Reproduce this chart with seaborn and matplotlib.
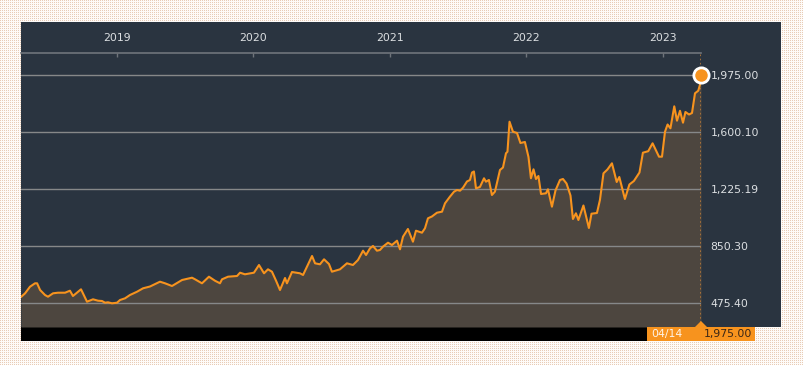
import matplotlib
matplotlib.use("Agg")
import matplotlib.pyplot as plt
from matplotlib.patches import Rectangle, Polygon
from matplotlib.ticker import FuncFormatter
import numpy as np
import pandas as pd
import seaborn as sns

# data (fractional year, index level)
years = [
    2018.296, 2018.326, 2018.362, 2018.399, 2018.414, 2018.436, 2018.472, 2018.494,
    2018.531, 2018.567, 2018.619, 2018.655, 2018.677, 2018.736, 2018.780, 2018.824,
    2018.861, 2018.890, 2018.912, 2018.934, 2018.963, 2019.000, 2019.022, 2019.059,
    2019.095, 2019.147, 2019.191, 2019.242, 2019.315, 2019.352, 2019.403, 2019.477,
    2019.550, 2019.572, 2019.623, 2019.674, 2019.718, 2019.755, 2019.770, 2019.814,
    2019.880, 2019.902, 2019.938, 2020.004, 2020.041, 2020.078, 2020.107, 2020.136,
    2020.166, 2020.195, 2020.232, 2020.246, 2020.283, 2020.342, 2020.364, 2020.430,
    2020.452, 2020.488, 2020.518, 2020.554, 2020.576, 2020.635, 2020.686, 2020.730,
    2020.767, 2020.804, 2020.826, 2020.855, 2020.877, 2020.906, 2020.928, 2020.950,
    2020.987, 2021.016, 2021.053, 2021.075, 2021.097, 2021.133, 2021.170, 2021.192,
    2021.236, 2021.258, 2021.280, 2021.309, 2021.346, 2021.383, 2021.405, 2021.441,
    2021.471, 2021.493, 2021.515, 2021.537, 2021.566, 2021.588, 2021.603, 2021.617,
    2021.632, 2021.661, 2021.691, 2021.705, 2021.727, 2021.749, 2021.771, 2021.808,
    2021.830, 2021.852, 2021.863, 2021.878, 2021.903, 2021.933, 2021.958, 2021.991,
    2022.017, 2022.035, 2022.054, 2022.072, 2022.090, 2022.109, 2022.145, 2022.160,
    2022.189, 2022.215, 2022.248, 2022.270, 2022.296, 2022.325, 2022.343, 2022.365,
    2022.383, 2022.420, 2022.460, 2022.479, 2022.519, 2022.541, 2022.567, 2022.596,
    2022.629, 2022.664, 2022.683, 2022.724, 2022.757, 2022.790, 2022.831, 2022.856,
    2022.895, 2022.927, 2022.974, 2022.996, 2023.018, 2023.037, 2023.058, 2023.086,
    2023.106, 2023.128, 2023.150, 2023.168, 2023.194, 2023.216, 2023.238, 2023.262,
    2023.274, 2023.282,
]
values = [
    514.9, 539.2, 582.6, 605.0, 605.0, 560.9, 528.0, 516.8,
    539.2, 543.1, 543.1, 556.3, 521.4, 565.5, 484.0, 499.7,
    490.5, 488.6, 477.4, 480.0, 473.4, 477.4, 495.1, 506.3,
    528.0, 549.7, 572.1, 583.9, 615.5, 605.0, 587.2, 626.7,
    641.8, 631.3, 605.0, 648.4, 622.1, 605.0, 631.3, 648.4,
    653.0, 674.7, 664.2, 674.7, 725.3, 670.7, 697.0, 681.3,
    622.1, 560.9, 639.8, 605.0, 679.3, 670.7, 659.6, 784.5,
    736.5, 729.9, 762.8, 731.9, 681.3, 697.0, 736.5, 725.3,
    758.2, 819.4, 791.1, 835.2, 850.3, 819.4, 824.0, 845.7,
    872.0, 856.9, 885.1, 828.6, 911.5, 962.1, 878.6, 950.9,
    937.8, 966.7, 1032.5, 1044.3, 1069.3, 1075.9, 1131.1, 1174.5,
    1207.4, 1218.6, 1214.0, 1233.7, 1274.5, 1284.4, 1333.7, 1340.3,
    1229.8, 1238.3, 1295.6, 1273.2, 1284.4, 1185.7, 1207.4, 1350.1,
    1366.6, 1460.0, 1470.5, 1667.8, 1602.0, 1593.5, 1527.7, 1534.3,
    1435.6, 1295.6, 1354.7, 1290.9, 1310.7, 1192.3, 1196.9, 1223.2,
    1108.8, 1215.3, 1284.4, 1290.9, 1261.4, 1182.4, 1027.9, 1065.4,
    1021.3, 1116.7, 968.7, 1062.7, 1067.3, 1152.8, 1328.4, 1353.4,
    1394.2, 1271.2, 1304.1, 1159.4, 1254.8, 1277.8, 1333.7, 1463.9,
    1473.8, 1525.7, 1437.6, 1437.6, 1602.0, 1649.4, 1624.4, 1769.1,
    1674.4, 1739.5, 1661.2, 1731.6, 1715.2, 1725.0, 1854.6, 1871.7,
    1909.2, 1975.0,
]
y_ticks = [475.40, 850.30, 1225.19, 1600.10, 1975.00]
x_ticks = [2019, 2020, 2021, 2022, 2023]
last_date_label = "04/14"
last_value = 1975.00

W, H = 804, 365
ORANGE = "#f7931e"
PANEL = "#2a3440"
FILL = "#4d463f"
GRID = "#868889"
TEXT = "#dcdfe2"


def fx(px):
    return px / W


def fy(py):
    return 1 - py / H


sns.set_theme(style="white")
plt.rcParams["font.family"] = ["DejaVu Sans"]

df = pd.DataFrame({"year": years, "value": values})

fig = plt.figure(figsize=(W / 100, H / 100), dpi=100)

# dotted page background
bg = np.ones((H, W, 3)) * np.array([0.998, 0.985, 0.975])
bg[::2, ::2] = [0.91, 0.80, 0.72]
fig.figimage(bg, 0, 0, zorder=0)

# dark panel and black bottom band
fig.add_artist(Rectangle((fx(21), fy(327)), fx(781) - fx(21), fy(22) - fy(327),
                         transform=fig.transFigure, facecolor=PANEL, lw=0, zorder=1))
fig.add_artist(Rectangle((fx(21), fy(341)), fx(755) - fx(21), fy(327) - fy(341),
                         transform=fig.transFigure, facecolor="black", lw=0, zorder=1))

ax = fig.add_axes([fx(21), fy(327), fx(701) - fx(21), fy(53) - fy(327)])
ax.set_zorder(3)
ax.patch.set_alpha(0)

x0, x1 = df["year"].iloc[0], df["year"].iloc[-1]
y_low = 317.6
ax.set_xlim(x0, x1)
ax.set_ylim(y_low, 2119.6)

ax.fill_between(df["year"], df["value"], y_low, color=FILL, lw=0, zorder=1)
for v in y_ticks:
    ax.axhline(v, color=GRID, lw=1.0, zorder=2)
sns.lineplot(data=df, x="year", y="value", ax=ax, color=ORANGE, lw=1.5, zorder=3)
ax.axvline(x1, color="#b5783a", lw=1.2, ls=(0, (1, 1.5)), zorder=2)
ax.plot([x1], [last_value], "o", ms=11, mfc=ORANGE, mec="white", mew=2,
        zorder=6, clip_on=False)

ax.set_xlabel("")
ax.set_ylabel("")
ax.grid(False)
for s in ["left", "right", "bottom"]:
    ax.spines[s].set_visible(False)
ax.spines["top"].set_color("#6f747b")
ax.spines["top"].set_linewidth(1.2)

ax.xaxis.tick_top()
ax.set_xticks(x_ticks)
ax.set_xticklabels([str(t) for t in x_ticks])
ax.tick_params(axis="x", direction="in", length=3, width=1, color="#6f747b",
               labelsize=7.8, labelcolor=TEXT, pad=7)

ax.yaxis.tick_right()
ax.set_yticks(y_ticks)
ax.yaxis.set_major_formatter(FuncFormatter(lambda v, p: f"{v:,.2f}"))
ax.tick_params(axis="y", length=0, labelsize=7.8, labelcolor=TEXT, pad=7)

# last value tag in the bottom band
fig.add_artist(Rectangle((fx(647), fy(341)), fx(755) - fx(647), fy(327) - fy(341),
                         transform=fig.transFigure, facecolor=ORANGE, lw=0, zorder=5))
fig.add_artist(Polygon([(fx(695), fy(327)), (fx(707), fy(327)), (fx(701), fy(321))],
                       transform=fig.transFigure, facecolor=ORANGE, lw=0, zorder=5))
fig.text(fx(651), fy(334), last_date_label, color="#fff3e6", fontsize=7.8,
         ha="left", va="center", zorder=6)
fig.text(fx(752), fy(334), f"{last_value:,.2f}", color="#3a2616", fontsize=7.8,
         ha="right", va="center", zorder=6)

fig.savefig("out.png", dpi=100)
